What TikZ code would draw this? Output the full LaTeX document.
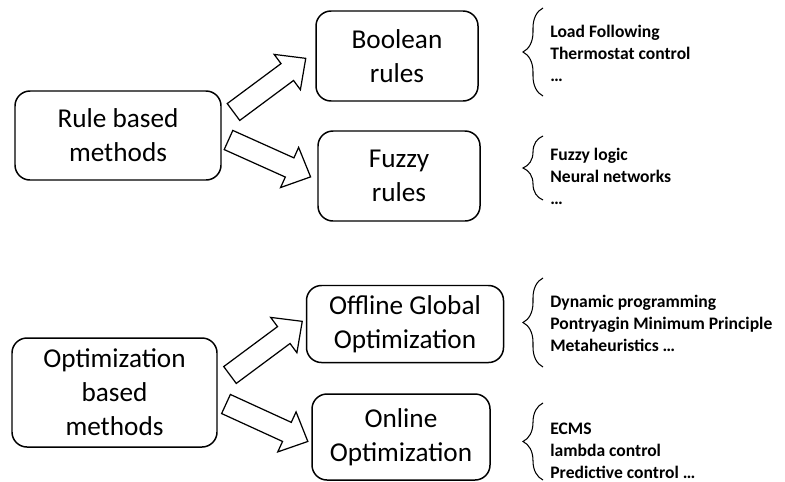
\documentclass[tikz,border=0pt]{standalone}
\usepackage{fontspec}
\setmainfont{Carlito}
\usetikzlibrary{decorations.pathreplacing}

\tikzstyle{box} = [draw, line width=0.85pt, rounded corners=0.3cm, align=center, inner sep=0pt, font=\fontsize{15.5}{19.3}\selectfont]
\tikzstyle{list} = [anchor=west, align=left, inner sep=0pt, font=\fontsize{10}{12.5}\selectfont\bfseries]
\tikzstyle{brace} = [draw, line width=0.6pt, decorate, decoration={brace, amplitude=0.4cm}]
\tikzstyle{fat} = [draw, line width=0.7pt, line join=miter]

% hollow block arrow: tail x, tail y, angle
\newcommand{\fatarrow}[3]{%
\draw[fat, shift={(#1,#2)}, rotate=#3] (0,-0.21) -- (1.34,-0.21) -- (1.34,-0.44) -- (1.8,0) -- (1.34,0.44) -- (1.34,0.21) -- (0,0.21) -- cycle;}

\begin{document}
\begin{tikzpicture}
\useasboundingbox (0,0) rectangle (15.7,-9.64);
%\draw[help lines] (0,0) grid (15.7,-9.64);

%boxes
\node[box, minimum width=4.12cm, minimum height=1.78cm] (rule) at (2.36,-2.71) {Rule based\\methods};
\node[box, minimum width=3.24cm, minimum height=1.8cm] (bool) at (7.94,-1.12) {Boolean\\rules};
\node[box, minimum width=3.24cm, minimum height=1.8cm] (fuzzy) at (7.98,-3.52) {Fuzzy\\rules};
\node[box, minimum width=4.10cm, minimum height=2.18cm] (opt) at (2.29,-7.85) {Optimization\\based\\methods};
\node[box, minimum width=3.94cm, minimum height=1.54cm] (offline) at (8.10,-6.48) {Offline Global\\Optimization};
\node[box, minimum width=3.56cm, minimum height=1.72cm] (online) at (8.02,-8.74) {Online\\Optimization};

%arrows
\fatarrow{4.67}{-2.24}{36.6}% rule -> bool
\fatarrow{4.57}{-2.80}{-24.2}% rule -> fuzzy
\fatarrow{4.60}{-7.50}{36.6}% opt -> offline
\fatarrow{4.52}{-8.08}{-24.6}% opt -> online

%braces
\draw[brace] (10.86,-1.92) -- (10.86,-0.16);
\draw[brace] (10.86,-4.00) -- (10.86,-2.72);
\draw[brace] (10.86,-7.34) -- (10.86,-5.56);
\draw[brace] (10.86,-9.60) -- (10.86,-8.06);

%examples
\node[list] (boolex) at (11.0,-1.07) {Load Following\\Thermostat control\\…};
\node[list] (fuzzyex) at (11.0,-3.52) {Fuzzy logic\\Neural networks\\…};
\node[list] (offex) at (11.0,-6.46) {Dynamic programming\\Pontryagin Minimum Principle\\Metaheuristics …};
\node[list] (onex) at (11.0,-9.02) {ECMS\\lambda control\\Predictive control …};
\end{tikzpicture}
\end{document}
